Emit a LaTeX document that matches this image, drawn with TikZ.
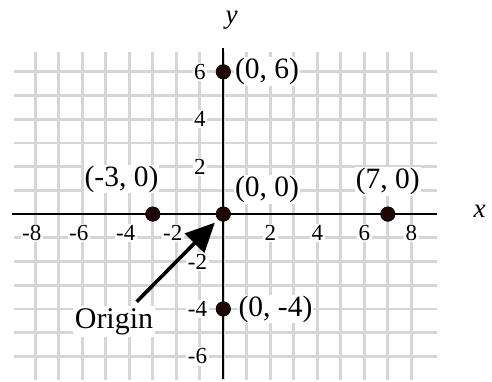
\documentclass[tikz,border=0pt]{standalone}
\usepackage{fontspec}
\setmainfont{Liberation Serif}
\newfontfamily\lserif{Liberation Serif}
\usetikzlibrary{arrows.meta}
\definecolor{gridgray}{HTML}{D6D6D6}
\definecolor{dotfill}{HTML}{1E0606}
\begin{document}
\begin{tikzpicture}[x=23.5bp,y=23.7bp,
  gridline/.style={gridgray,line width=2.8bp},
  axisline/.style={black,line width=2.3bp},
  dot/.style={circle,fill=dotfill,draw=black,line width=0.6bp,minimum size=14.5bp,inner sep=0pt},
  ticklbl/.style={fill=white,inner sep=1.5bp,font=\lserif\fontsize{23bp}{25bp}\selectfont},
  ptlbl/.style={fill=white,inner sep=1bp,font=\lserif\fontsize{29.5bp}{31bp}\selectfont},
  axlbl/.style={inner sep=0pt,anchor=base,font=\lserif\fontsize{27bp}{29bp}\selectfont\itshape},
  origlbl/.style={fill=white,inner sep=2bp,anchor=base,font=\lserif\fontsize{30bp}{32bp}\selectfont},
  arrowline/.style={line width=3.6bp,-{Triangle[length=29bp,width=27bp]},shorten >=4.5bp}]
\useasboundingbox (-9.50,-7.05) rectangle (11.43,9.03);
% grid
\foreach \i in {-8,...,8} \draw[gridline] (\i,-7) -- (\i,6.85);
\foreach \j in {-6,...,6} \draw[gridline] (-8.9,\j) -- (9.1,\j);
% axes
\draw[axisline] (-9,0) -- (9.1,0);
\draw[axisline] (0,-6.95) -- (0,7);
% tick labels
\foreach \i in {2,4,6,8} \node[ticklbl] (tx\i) at (\i,-0.8) {\i};
\foreach \i in {-8,-6,-4,-2} \node[ticklbl] (tx\i) at (\i-0.15,-0.8) {\i};
\foreach \j in {2,4,6} \node[ticklbl] (ty\j) at (-1,\j) {\j};
\foreach \j in {-6,-4,-2} \node[ticklbl] (ty\j) at (-1.1,\j) {\j};
% axis labels
\node[axlbl] (xl) at (10.9,-0.13) {x};
\node[axlbl] (yl) at (0.35,8.05) {y};
% points
\node[dot] (o) at (0,0) {};
\node[dot] (p6) at (0,6) {};
\node[dot] (pm4) at (0,-4) {};
\node[dot] (pm3) at (-3,0) {};
\node[dot] (p7) at (7,0) {};
% point labels
\node[ptlbl,anchor=west] (l6) at (0.45,6) {(0, 6)};
\node[ptlbl,anchor=west] (l0) at (0.45,1.05) {(0, 0)};
\node[ptlbl] (l7) at (7,1.36) {(7, 0)};
\node[ptlbl] (lm3) at (-4.33,1.48) {(-3, 0)};
\node[ptlbl,anchor=west] (lm4) at (0.6,-4) {(0, -4)};
% origin label and arrow
\node[origlbl] (orig) at (-4.65,-4.81) {Origin};
\coordinate (tail) at (-3.69,-3.70);
\draw[arrowline] (tail) -- (o);
\end{tikzpicture}
\end{document}
